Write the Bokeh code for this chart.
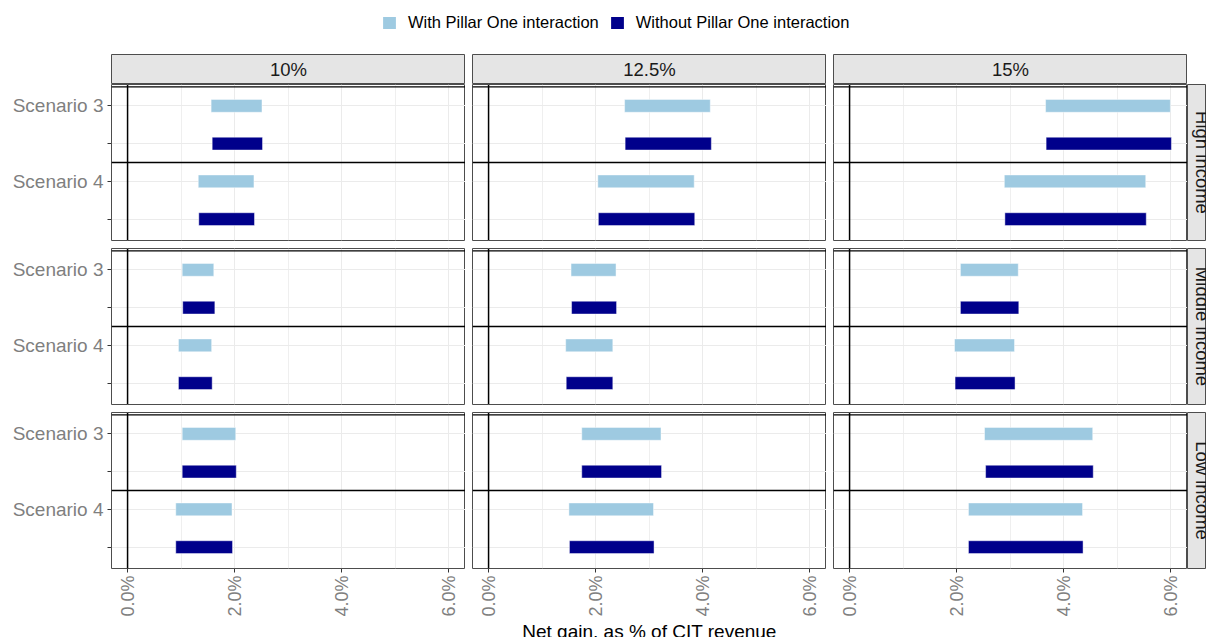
import math
from bokeh.plotting import figure
from bokeh.layouts import column, row
from bokeh.models import (Range1d, FixedTicker, Span, Label, Legend, LegendItem,
                          ColumnDataSource, LinearAxis, Grid, PrintfTickFormatter)
from bokeh.embed import file_html
from bokeh.resources import INLINE

# ---------------- data ----------------
incomes = ["High income", "Middle income", "Low income"]
rates = ["10%", "12.5%", "15%"]
scenarios = ["Scenario 3", "Scenario 4"]
series = ["With Pillar One interaction", "Without Pillar One interaction"]
colors = ["#9ECAE1", "#00008B"]

x_ticks = [0, 2, 4, 6]
x_minor = [1, 3, 5]

# net gain range (% of CIT revenue), indexed [income][rate][scenario]
with_start = [
    [[1.56, 1.32], [2.54, 2.04], [3.66, 2.89]],
    [[1.02, 0.95], [1.54, 1.44], [2.07, 1.96]],
    [[1.02, 0.90], [1.74, 1.50], [2.52, 2.22]],
]
with_end = [
    [[2.51, 2.36], [4.14, 3.84], [5.99, 5.53]],
    [[1.61, 1.57], [2.38, 2.32], [3.15, 3.08]],
    [[2.02, 1.95], [3.22, 3.08], [4.54, 4.35]],
]
without_start = [
    [[1.58, 1.33], [2.55, 2.05], [3.67, 2.90]],
    [[1.03, 0.95], [1.55, 1.45], [2.07, 1.97]],
    [[1.02, 0.90], [1.74, 1.51], [2.54, 2.22]],
]
without_end = [
    [[2.52, 2.37], [4.16, 3.85], [6.01, 5.54]],
    [[1.63, 1.58], [2.39, 2.32], [3.16, 3.09]],
    [[2.03, 1.96], [3.23, 3.09], [4.55, 4.36]],
]
starts = [with_start, without_start]
ends = [with_end, without_end]

# ---------------- style ----------------
FONT = "Liberation Sans"
X_RANGE = (-0.30, 6.31)
Y_RANGE = (4.565, 0.435)
FRAME_W, FRAME_H = 354, 156
BORDER = "#4D4D4D"
GRID = "#EBEBEB"
STRIP_FILL = "#E5E5E5"


def ypos(s, k):
    return 1 + len(series) * s + k


y_ticks = [ypos(s, k) for s in range(len(scenarios)) for k in range(len(series))]
y_overrides = {ypos(s, k): (scenarios[s] if k == 0 else "")
               for s in range(len(scenarios)) for k in range(len(series))}
boundaries = [ypos(s, 0) - 0.5 for s in range(len(scenarios))]


def drop_grids(p):
    p.center = [r for r in p.center if not isinstance(r, Grid)]


def base_fig(**kw):
    p = figure(x_axis_location=None, y_axis_location=None,
               output_backend="svg", toolbar_location=None, **kw)
    drop_grids(p)
    return p


def make_panel(i, j):
    p = base_fig(frame_width=FRAME_W, frame_height=FRAME_H,
                 x_range=Range1d(*X_RANGE), y_range=Range1d(*Y_RANGE),
                 min_border_left=111 if j == 0 else 7, min_border_right=0,
                 min_border_top=0, min_border_bottom=48 if i == 2 else 8,
                 outline_line_color=BORDER, outline_line_width=1,
                 background_fill_color="white", border_fill_color="white")
    p.add_layout(Grid(dimension=0, ticker=FixedTicker(ticks=x_ticks, minor_ticks=x_minor),
                      grid_line_color=GRID, grid_line_width=1,
                      minor_grid_line_color=GRID, minor_grid_line_width=0.8))
    p.add_layout(Grid(dimension=1, ticker=FixedTicker(ticks=y_ticks),
                      grid_line_color=GRID, grid_line_width=1))
    for k in range(len(series)):
        src = ColumnDataSource(dict(
            y=[ypos(s, k) for s in range(len(scenarios))],
            left=[starts[k][i][j][s] for s in range(len(scenarios))],
            right=[ends[k][i][j][s] for s in range(len(scenarios))],
        ))
        p.hbar(y="y", left="left", right="right", height=0.34, source=src,
               fill_color=colors[k], line_color="white", line_alpha=0.45, line_width=1)
    p.add_layout(Span(location=0, dimension="height", line_color="black", line_width=1.5))
    for b in boundaries:
        p.add_layout(Span(location=b, dimension="width", line_color="black", line_width=1.3))
    if j == 0:
        ax = LinearAxis(ticker=FixedTicker(ticks=y_ticks), major_label_overrides=y_overrides,
                        axis_line_color=None, major_tick_line_color="#333333",
                        major_tick_out=4, major_tick_in=0, minor_tick_line_color=None,
                        major_label_standoff=4, major_label_text_font=FONT,
                        major_label_text_font_size="19px", major_label_text_color="#7F7F7F")
        p.add_layout(ax, "left")
    if i == 2:
        ax = LinearAxis(ticker=FixedTicker(ticks=x_ticks), formatter=PrintfTickFormatter(format="%.1f%%"),
                        axis_line_color=None, major_tick_line_color="#333333",
                        major_tick_out=4, major_tick_in=0, minor_tick_line_color=None,
                        major_label_standoff=3, major_label_orientation=math.pi / 2,
                        major_label_text_font=FONT, major_label_text_font_size="18px",
                        major_label_text_color="#7F7F7F")
        p.add_layout(ax, "below")
    return p


def make_top_strip(j):
    s = base_fig(frame_width=FRAME_W, frame_height=29, x_range=Range1d(0, 1), y_range=Range1d(0, 1),
                 min_border_left=111 if j == 0 else 7, min_border_right=0,
                 min_border_top=1, min_border_bottom=1,
                 background_fill_color=STRIP_FILL, outline_line_color=BORDER, outline_line_width=1)
    s.add_layout(Label(x=0.5, y=0.5, text=rates[j], text_align="center", text_baseline="middle",
                       text_font=FONT, text_font_size="18.5px", text_color="#1A1A1A"))
    return s


def make_right_strip(i):
    s = base_fig(frame_width=19, frame_height=FRAME_H, x_range=Range1d(0, 19), y_range=Range1d(0, FRAME_H),
                 min_border_left=0, min_border_right=0, min_border_top=0,
                 min_border_bottom=48 if i == 2 else 8,
                 background_fill_color=STRIP_FILL, outline_line_color=BORDER, outline_line_width=1)
    s.add_layout(Label(x=14.5, y=FRAME_H / 2, text=incomes[i], angle=-math.pi / 2,
                       text_align="center", text_baseline="middle",
                       text_font=FONT, text_font_size="18.5px", text_color="#1A1A1A"))
    return s


# header with legend
header = base_fig(frame_width=1206, frame_height=53, x_range=Range1d(0, 1), y_range=Range1d(0, 1),
                  min_border=0, outline_line_color=None)
items = []
for k in range(len(series)):
    # legend proxy (zero-width, outside the visible range)
    proxy = ColumnDataSource(dict(y=[-1], left=[0], right=[0]))
    r = header.hbar(y="y", left="left", right="right", height=0.1, source=proxy,
                    fill_color=colors[k], line_color=None)
    items.append(LegendItem(label=series[k], renderers=[r]))
legend = Legend(items=items, orientation="horizontal", location=(381, 21),
                border_line_color=None, background_fill_alpha=0, padding=0, margin=0,
                spacing=10, glyph_width=16, glyph_height=15, label_height=15,
                label_standoff=11, label_text_font=FONT, label_text_font_size="16.5px",
                label_text_color="black")
header.add_layout(legend)

# x-axis title
footer = base_fig(frame_width=1206, frame_height=21, x_range=Range1d(0, 1206), y_range=Range1d(0, 21),
                  min_border=0, outline_line_color=None)
footer.add_layout(Label(x=649, y=9.5, text="Net gain, as % of CIT revenue", text_align="center",
                        text_baseline="alphabetic", text_font=FONT, text_font_size="19px",
                        text_color="black"))

rows = [header, row(*[make_top_strip(j) for j in range(3)])]
for i in range(3):
    rows.append(row(*[make_panel(i, j) for j in range(3)], make_right_strip(i)))
rows.append(footer)
layout = column(*rows)

open("out.html", "w").write(file_html(layout, INLINE))
